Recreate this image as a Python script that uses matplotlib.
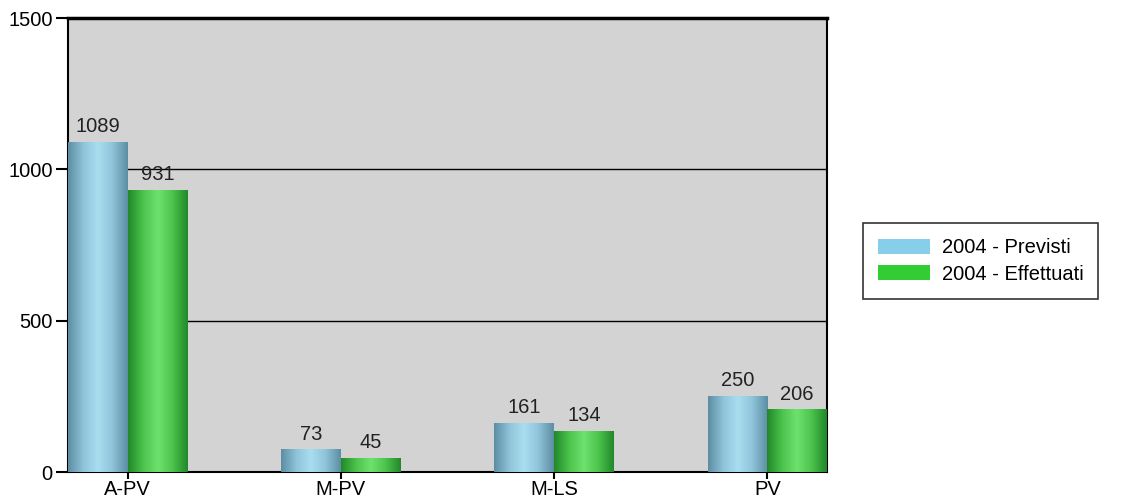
import numpy as np
import matplotlib
matplotlib.use('Agg')
import matplotlib.pyplot as plt
from matplotlib.colors import LinearSegmentedColormap
from matplotlib.patches import Patch

categories = ['A-PV', 'M-PV', 'M-LS', 'PV']
previsti = [1089, 73, 161, 250]
effettuati = [931, 45, 134, 206]
series_names = ['2004 - Previsti', '2004 - Effettuati']

plt.rcParams['font.family'] = ['Liberation Sans', 'DejaVu Sans']
fs = 14.5

fig = plt.figure(figsize=(11.24, 5.01), dpi=100)
ax = fig.add_axes([68/1124, 1 - 472/501, 759/1124, 454/501])
ax.set_facecolor('#d3d3d3')

blue_cm = LinearSegmentedColormap.from_list('b', ['#5d8ea4', '#8fc3d9', '#a9ddf0', '#8fc3d9', '#5d8ea4'])
green_cm = LinearSegmentedColormap.from_list('g', ['#22892a', '#4cc44c', '#6ee26e', '#4cc44c', '#22892a'])
grad = np.linspace(0, 1, 64).reshape(1, -1)

w = 0.28
x = np.arange(len(categories))


def gradient_bar(x0, h, cmap):
    ax.imshow(grad, extent=[x0, x0 + w, 0, h], aspect='auto', cmap=cmap, zorder=3,
              interpolation='bilinear')


for i in range(len(categories)):
    gradient_bar(x[i] - w, previsti[i], blue_cm)
    gradient_bar(x[i], effettuati[i], green_cm)
    ax.text(x[i] - w / 2, previsti[i] + 20, str(previsti[i]), ha='center', va='bottom',
            fontsize=fs, color='#222222', zorder=4)
    ax.text(x[i] + w / 2, effettuati[i] + 20, str(effettuati[i]), ha='center', va='bottom',
            fontsize=fs, color='#222222', zorder=4)

ax.set_xlim(-w, 3 + w)
ax.set_ylim(0, 1500)
ax.set_xticks(x)
ax.set_xticklabels(categories, fontsize=fs)
ax.set_yticks([0, 500, 1000, 1500])
ax.tick_params(axis='y', labelsize=fs, length=9, width=1.5, pad=2)
ax.tick_params(axis='x', length=5, width=1.5, pad=1)
ax.grid(axis='y', color='black', linewidth=1, zorder=1)
ax.set_axisbelow(True)
for s in ax.spines.values():
    s.set_linewidth(1.5)
ax.spines['top'].set_linewidth(2.5)

handles = [Patch(facecolor='#87ceeb', edgecolor='none'), Patch(facecolor='#32cd32', edgecolor='none')]
leg = fig.legend(handles, series_names, loc='center left', bbox_to_anchor=(863/1124, 1 - 261/501),
                 fontsize=fs, frameon=True, fancybox=False, edgecolor='black',
                 handlelength=2.6, handleheight=0.8, handletextpad=0.55,
                 borderpad=0.75, labelspacing=0.35, borderaxespad=0)
leg.get_frame().set_linewidth(1.2)

plt.savefig('out.png', dpi=100)
